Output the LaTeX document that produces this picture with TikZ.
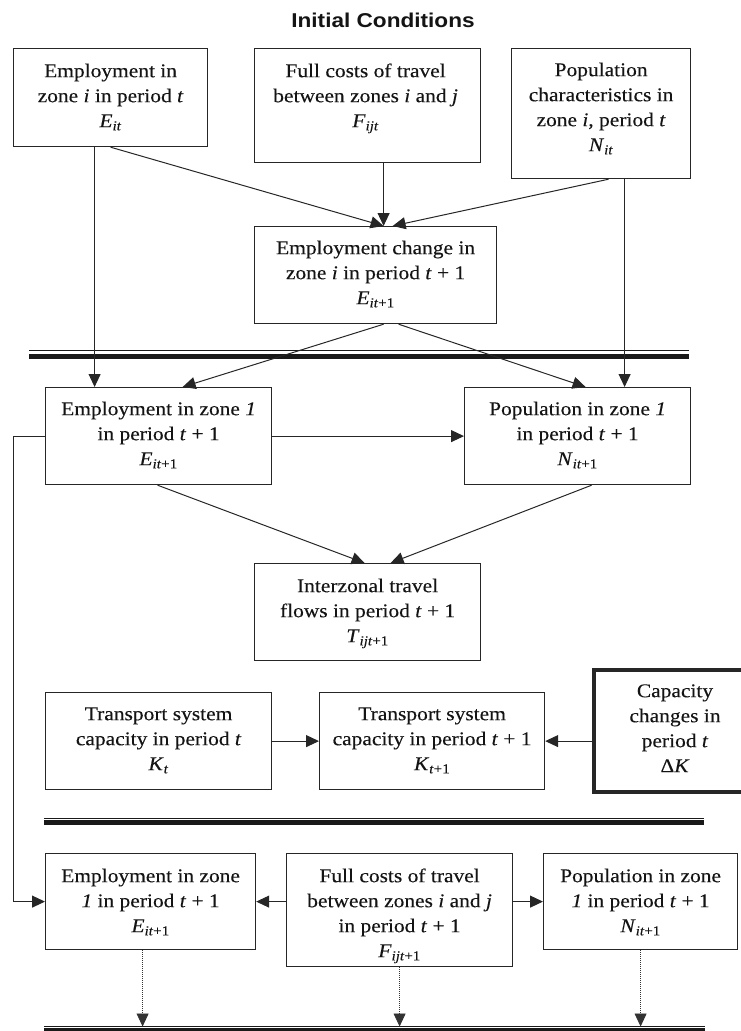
\documentclass[tikz,border=0pt]{standalone}
\usepackage{fontspec}
\setmainfont[FakeStretch=1.1,FakeBold=0.2]{Liberation Serif}
\newfontfamily\titlefont[FakeStretch=1.13]{Liberation Sans}
\usetikzlibrary{arrows.meta,calc}
\newcommand\sbt[1]{\textsubscript{#1}}
\tikzset{
  box/.style={draw=black!85, line width=1.2pt, inner sep=0pt, anchor=north west},
  thickbox/.style={box, line width=4pt},
  txt/.style={align=center, inner sep=0pt, anchor=north, font=\fontsize{19.5}{25}\selectfont, text=black!92},
  arr/.style={line width=1pt, draw=black!85, -{Triangle[length=13pt,width=12pt]}},
  darr/.style={line width=0.8pt, draw=black!80, dash pattern=on 1pt off 1pt, -{Triangle[length=13pt,width=12pt]}},
  septhin/.style={line width=1.5pt, draw=black!90},
  septhick/.style={line width=4.5pt, draw=black!90}
}
\begin{document}
\begin{tikzpicture}[x=1pt,y=-1pt]
\useasboundingbox (0,0) rectangle (741,1031);

\node[font=\titlefont\bfseries\fontsize{20}{22}\selectfont, inner sep=0pt, text=black!92] (title) at (383,20.5) {Initial Conditions};

% boxes
\node[box, minimum width=194, minimum height=98] (A) at (13,48) {};
\node[box, minimum width=226, minimum height=114] (B) at (254,48) {};
\node[box, minimum width=179, minimum height=130] (C) at (511,48) {};
\node[box, minimum width=242, minimum height=97] (D) at (254,226) {};
\node[box, minimum width=226, minimum height=97] (E1) at (45,387) {};
\node[box, minimum width=226, minimum height=97] (N1) at (464,387) {};
\node[box, minimum width=226, minimum height=97] (T) at (254,563) {};
\node[box, minimum width=226, minimum height=97] (Kt) at (45,692) {};
\node[box, minimum width=225, minimum height=97] (Kt1) at (319,692) {};
\node[thickbox, minimum width=162, minimum height=122] (DK) at (592,668) {};
\node[box, minimum width=210, minimum height=96] (E2) at (45,853) {};
\node[box, minimum width=226, minimum height=113] (F2) at (286,853) {};
\node[box, minimum width=194, minimum height=96] (N2) at (543,853) {};

% texts
\node[txt] (At) at ($(A.north)+(0,14)$) {\rule{0pt}{15pt}Employment in\\zone \textit{i} in period \textit{t}\\\textit{E}\sbt{\textit{it}}};
\node[txt] (Bt) at ($(B.north)+(-2,14)$) {\rule{0pt}{15pt}Full costs of travel\\between zones \textit{i} and \textit{j}\\\textit{F}\sbt{\textit{ijt}}};
\node[txt] (Ct) at ($(C.north)+(0,13)$) {\rule{0pt}{15pt}Population\\characteristics in\\zone \textit{i}, period \textit{t}\\\textit{N}\sbt{\textit{it}}};
\node[txt] (Dt) at ($(D.north)+(0,13)$) {\rule{0pt}{15pt}Employment change in\\zone \textit{i} in period \textit{t} + 1\\\textit{E}\sbt{\textit{it}+1}};
\node[txt] (E1t) at ($(E1.north)+(0,13)$) {\rule{0pt}{15pt}Employment in zone \textit{1}\\in period \textit{t} + 1\\\textit{E}\sbt{\textit{it}+1}};
\node[txt] (N1t) at ($(N1.north)+(0,13)$) {\rule{0pt}{15pt}Population in zone \textit{1}\\in period \textit{t} + 1\\\textit{N}\sbt{\textit{it}+1}};
\node[txt] (Tt) at ($(T.north)+(0,14)$) {\rule{0pt}{15pt}Interzonal travel\\flows in period \textit{t} + 1\\\textit{T}\sbt{\textit{ijt}+1}};
\node[txt] (Ktt) at ($(Kt.north)+(0,13)$) {\rule{0pt}{15pt}Transport system\\capacity in period \textit{t}\\\textit{K}\sbt{\textit{t}}};
\node[txt] (Kt1t) at ($(Kt1.north)+(0,13)$) {\rule{0pt}{15pt}Transport system\\capacity in period \textit{t} + 1\\\textit{K}\sbt{\textit{t}+1}};
\node[txt] (DKt) at ($(DK.north)+(0,14)$) {\rule{0pt}{15pt}Capacity\\changes in\\period \textit{t}\\Δ\textit{K}};
\node[txt] (E2t) at ($(E2.north)+(0,14)$) {\rule{0pt}{15pt}Employment in zone\\\textit{1} in period \textit{t} + 1\\\textit{E}\sbt{\textit{it}+1}};
\node[txt] (F2t) at ($(F2.north)+(0,14)$) {\rule{0pt}{15pt}Full costs of travel\\between zones \textit{i} and \textit{j}\\in period \textit{t} + 1\\\textit{F}\sbt{\textit{ijt}+1}};
\node[txt] (N2t) at ($(N2.north)+(0,14)$) {\rule{0pt}{15pt}Population in zone\\\textit{1} in period \textit{t} + 1\\\textit{N}\sbt{\textit{it}+1}};

% separators
\draw[septhin] (29,350.7) -- (689,350.7);
\draw[septhick] (29,356.3) -- (689,356.3);
\draw[septhin] (44,818.3) -- (704,818.3);
\draw[septhick] (44,822.5) -- (704,822.5);
\coordinate (base) at (44,1026.5);
\draw[septhin] (base) -- (705,1026.5);
\draw[septhick] (44,1030.5) -- (705,1030.5);

% connectors
\draw[arr] (A.south) -- ([xshift=8]D.north);
\draw[arr] ([xshift=16]B.south) -- ([xshift=16]B.south |- D.north);
\draw[arr] ([xshift=7.5]C.south) -- ([xshift=17]D.north);
\draw[arr] ([xshift=-16]A.south) -- ([xshift=-16]A.south |- E1.north);
\draw[arr] ([xshift=23.5]C.south) -- ([xshift=23.5]C.south |- N1.north);
\draw[arr] ([xshift=8]D.south) -- ([xshift=24]E1.north);
\draw[arr] ([xshift=23]D.south) -- ([xshift=8]N1.north);
\draw[arr] (E1.east) -- (N1.west);
\draw[arr] ([xshift=-1]E1.south) -- ([xshift=-3]T.north);
\draw[arr] ([xshift=14]N1.south) -- ([xshift=23]T.north);
\coordinate (fb) at (13,434);
\draw[arr] (E1.west) -- (E1.west -| fb) |- (E2.west);
\draw[arr] (Kt.east) -- (Kt1.west);
\draw[arr] (DK.west |- Kt1.east) -- (Kt1.east);
\draw[arr] (F2.west |- E2.east) -- (E2.east);
\draw[arr] (F2.east |- N2.west) -- (N2.west);
\draw[darr] ([xshift=-8]E2.south) -- ([xshift=-8]E2.south |- base);
\draw[darr] (F2.south) -- (F2.south |- base);
\draw[darr] (N2.south) -- (N2.south |- base);
\end{tikzpicture}
\end{document}
